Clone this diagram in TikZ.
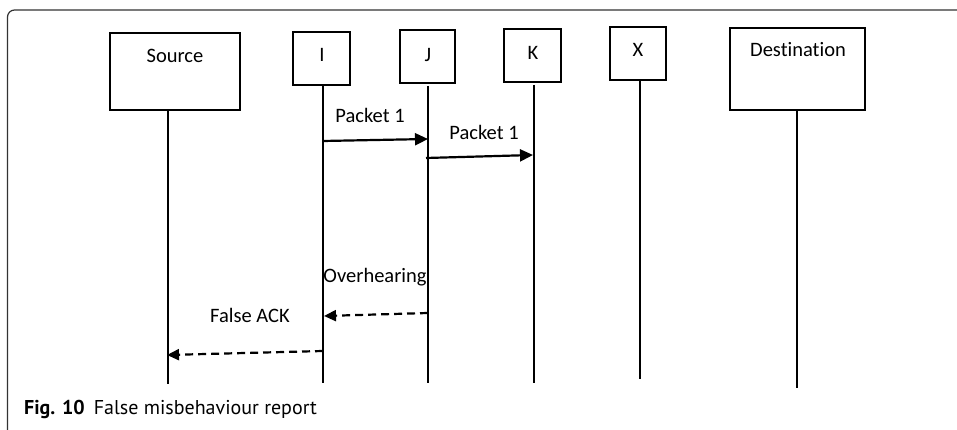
\documentclass[tikz,border=0pt]{standalone}
\usepackage{fontspec}
\setmainfont{Carlito}[Ligatures={NoCommon}]
\newfontfamily\capfont{PT Sans}
\usepackage{tikz}
\usetikzlibrary{calc}
\usetikzlibrary{arrows.meta}
\tikzset{%
  lifebox/.style={draw=black, line width=1.5pt, inner sep=0pt},
  lifeline/.style={draw=black, line width=1.5pt},
  msgedge/.style={-{Triangle[length=13pt, width=12pt]}, line width=2.2pt},
  ackedge/.style={-{Triangle[length=12pt, width=11pt]}, line width=2.2pt, dash pattern=on 8pt off 5pt},
  msgtext/.style={font=\fontsize{20.5}{24}\selectfont, inner sep=0pt}
}

\begin{document}
\begin{tikzpicture}[x=1pt, y=1pt]
  \useasboundingbox (0,0) rectangle (957,430);
  \draw [color=black!80, line width=1.2pt, rounded corners=7pt] (7.5,-10) rectangle (1000,420);

% boxes
\node (S) [lifebox, minimum width=130pt, minimum height=77pt] at (175,358.5) {};
\node (I) [lifebox, minimum width=57pt, minimum height=53pt] at (321.5,371.5) {};
\node (J) [lifebox, minimum width=55pt, minimum height=53pt] at (427.5,373.5) {};
\node (K) [lifebox, minimum width=57pt, minimum height=53pt] at (532.5,374.5) {};
\node (X) [lifebox, minimum width=56pt, minimum height=53pt] at (638,376.5) {};
\node (D) [lifebox, minimum width=135pt, minimum height=82pt] at (797.5,361) {};

\node (tS) [msgtext] at (175,374) {Source};
\node (tI) [msgtext] at (322,375) {I};
\node (tJ) [msgtext] at (428,375) {J};
\node (tK) [msgtext] at (533,377) {K};
\node (tX) [msgtext] at (638,380) {X};
\node (tD) [msgtext] at (798,380) {Destination};

% lifelines
\coordinate (Stop) at (168,320);
\coordinate (Sbot) at (168,46);
\coordinate (Itop) at (323,345);
\coordinate (Ibot) at (323,47);
\coordinate (Jtop) at (428,344);
\coordinate (Jbot) at (428,47);
\coordinate (Ktop) at (534,345);
\coordinate (Kbot) at (534,47);
\coordinate (Xtop) at (640,350);
\coordinate (Xbot) at (640,51);
\coordinate (Dtop) at (797,320);
\coordinate (Dbot) at (797,42);
\foreach \n in {S,I,J,K,X,D} {
  \draw [lifeline] (\n top) -- (\n bot);
}

% messages
\coordinate (m1a) at (323,289);
\coordinate (m1b) at (428,291);
\coordinate (m2a) at (426,272);
\coordinate (m2b) at (533,275);
\coordinate (d1a) at (428,117);
\coordinate (d1b) at (324,114);
\coordinate (d2a) at (323,79);
\coordinate (d2b) at (167,75);

\draw [msgedge] (m1a) -- (m1b);
\draw [msgedge] (m2a) -- (m2b);
\draw [ackedge] (d1a) -- (d1b);
\draw [ackedge] (d2a) -- (d2b);

\node (p1) [msgtext] at (370,315) {Packet 1};
\node (p2) [msgtext] at (484,298) {Packet 1};
\node (ov) [msgtext] at (375,153) {Overhearing};
\node (fa) [msgtext] at (250,115) {False ACK};

\node (cap) [anchor=west, inner sep=0pt, font=\capfont\fontsize{20}{24}\selectfont] at (24,21)
  {\textbf{Fig. 10}\hspace{9pt}False misbehaviour report};
\end{tikzpicture}
\end{document}
